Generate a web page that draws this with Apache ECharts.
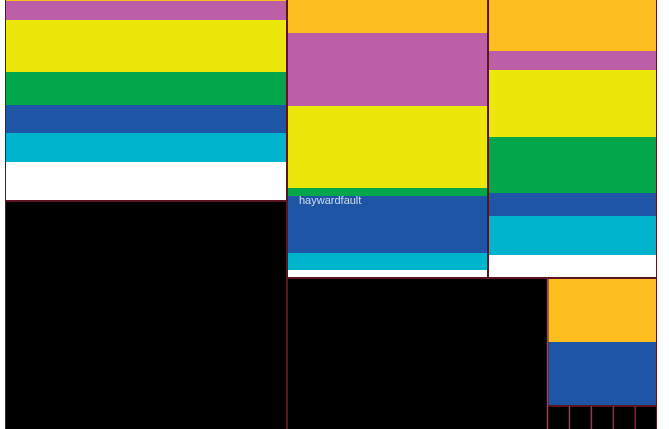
<!DOCTYPE html>
<html>
<head>
<meta charset="utf-8">
<script src="https://cdn.jsdelivr.net/npm/echarts@6/dist/echarts.min.js"></script>
<style>
html, body { margin: 0; padding: 0; background: #ffffff; }
#chart { width: 669px; height: 429px; }
</style>
</head>
<body>
<div id="chart"></div>
<script>
// Treemap nodes (data order = layout order)
const nodeNames = ['upperwest', 'lowerwest', 'haywardfault', 'uppereast', 'lowercenter', 'lowereast', 'cell1', 'cell2', 'cell3', 'cell4', 'cell5'];
const nodeValues = [56964, 68526, 56079, 47151, 43243, 14016, 832, 832, 832, 832, 832];
const nodeLabelShown = [false, false, true, false, false, false, false, false, false, false, false];

// Stripe bands (top to bottom) inside each coloured node
const bandColors = ['#fcbd1f', '#bc5fa6', '#ece70b', '#04a64c', '#1f55a5', '#01b4cd', '#ffffff'];
const bandsUpperWest = [1, 19, 52, 33, 28, 29, 38];
const bandsHayward = [33, 73, 82, 8, 57, 17, 7];
const bandsUpperEast = [51, 19, 67, 56, 23, 39, 22];
const bandsLowerEast = [63, 0, 0, 0, 63, 0, 0];
const nodeBands = [bandsUpperWest, null, bandsHayward, bandsUpperEast, null, bandsLowerEast, null, null, null, null, null];

function stripes(bands) {
  const total = bands.reduce((a, b) => a + b, 0);
  const stops = [];
  let acc = 0;
  bands.forEach((b, i) => {
    const s = acc / total;
    acc += b;
    const e = acc / total;
    stops.push({ offset: s, color: bandColors[i] }, { offset: e, color: bandColors[i] });
  });
  return new echarts.graphic.LinearGradient(0, 0, 0, 1, stops);
}

const data = nodeNames.map((name, i) => {
  const item = {
    name: name,
    value: nodeValues[i],
    itemStyle: { color: nodeBands[i] ? stripes(nodeBands[i]) : '#000000' }
  };
  if (nodeLabelShown[i]) {
    item.label = {
      show: true,
      position: [11, 195],
      padding: 0,
      color: 'rgba(235,238,245,0.85)',
      fontSize: 11,
      fontFamily: 'Liberation Sans, Arial, sans-serif'
    };
  }
  return item;
});

const chart = echarts.init(document.getElementById('chart'), null, { renderer: 'canvas' });
chart.setOption({
  animation: false,
  backgroundColor: '#ffffff',
  series: [{
    type: 'treemap',
    left: 5,
    top: -1,
    width: 652,
    height: 445,
    squareRatio: 0.95,
    sort: false,
    roam: false,
    nodeClick: false,
    breadcrumb: { show: false },
    label: { show: false },
    upperLabel: { show: false },
    levels: [
      { itemStyle: { borderWidth: 0, gapWidth: 0 } },
      { itemStyle: { borderWidth: 1, gapWidth: 0, borderColor: '#5a1520' } }
    ],
    data: data
  }]
});
</script>
</body>
</html>
